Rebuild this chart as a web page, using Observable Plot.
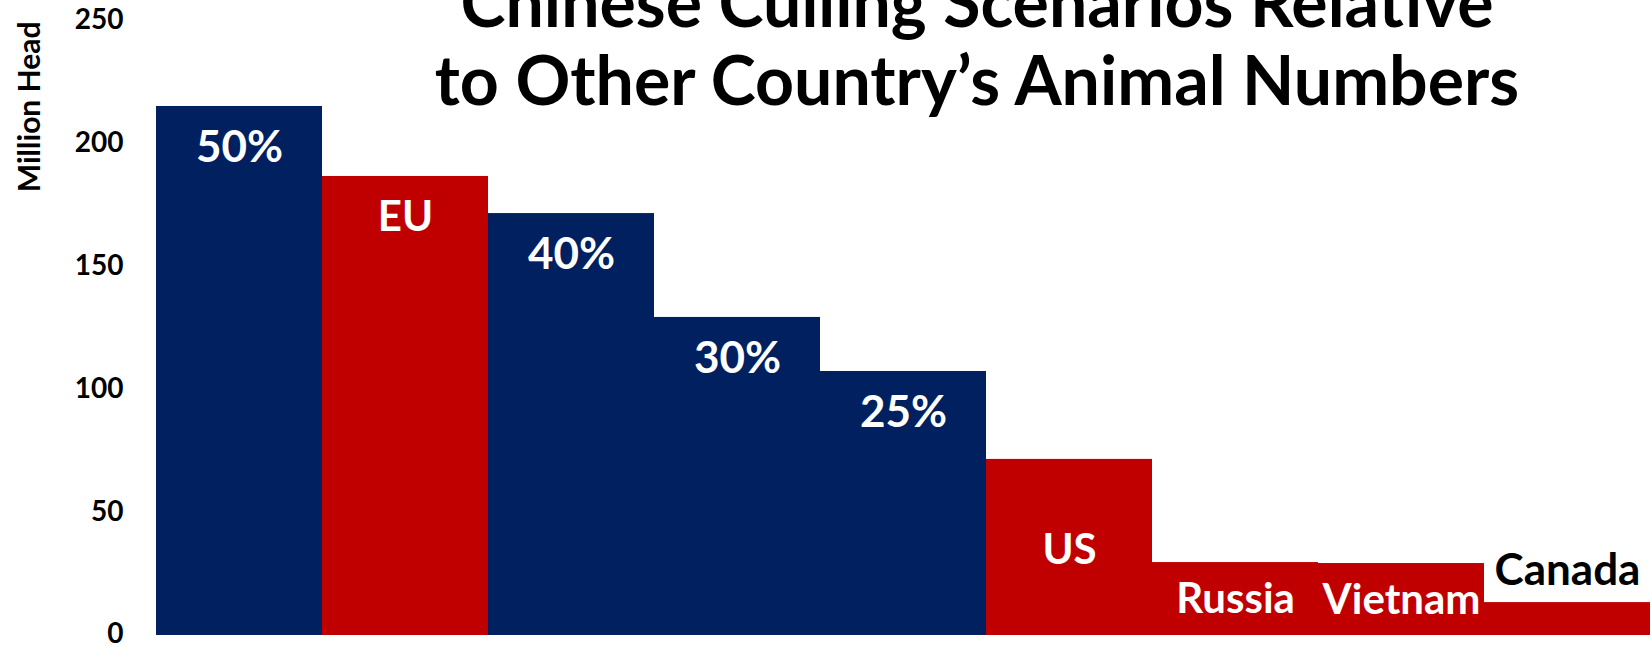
<!DOCTYPE html>
<html>
<head>
<meta charset="utf-8">
<script src="https://cdn.jsdelivr.net/npm/d3@7"></script>
<script src="https://cdn.jsdelivr.net/npm/@observablehq/plot@0.6"></script>
<style>
  html, body { margin: 0; padding: 0; background: #fff; }
  #wrap { position: relative; width: 1651px; height: 649px; overflow: hidden; }
  #title {
    position: absolute; left: 977px; top: -38px; transform: translateX(-50%);
    font-family: Lato, "DejaVu Sans", sans-serif; font-weight: 700;
    font-size: 68px; line-height: 78px; color: #000; text-align: center; white-space: nowrap;
  }
</style>
</head>
<body>
<div id="wrap">
  <div id="chart"></div>
  <div id="title">Chinese Culling Scenarios Relative<br>to Other Country’s Animal Numbers</div>
</div>
<script>
const labels = ["50%", "EU", "40%", "30%", "25%", "US", "Russia", "Vietnam", "Canada"];
const values = [215.4, 186.9, 171.8, 129.5, 107.5, 71.7, 29.7, 29.3, 13.4];
const kinds = ["China cull", "Country", "China cull", "China cull", "China cull", "Country", "Country", "Country", "Country"];
const yTicks = [0, 50, 100, 150, 200, 250];
const yLabel = "Million Head";

const data = labels.map((label, i) => ({label, value: values[i], kind: kinds[i]}));

const font = "Lato, 'DejaVu Sans', sans-serif";
const labelStyle = {x: "label", y: "value", text: "label", fill: "white", fontSize: 42, fontWeight: 700, fontFamily: font, lineAnchor: "middle"};

const chart = Plot.plot({
  width: 1651,
  height: 649,
  marginLeft: 155,
  marginRight: 0,
  marginTop: 21,
  marginBottom: 14,
  style: {fontFamily: font, background: "white"},
  x: {domain: labels, padding: 0, axis: null},
  y: {domain: [0, 250], ticks: yTicks, label: null},
  color: {domain: ["China cull", "Country"], range: ["#002060", "#C00000"]},
  marks: [
    Plot.barY(data, {x: "label", y: "value", fill: "kind", inset: 0}),
    Plot.axisY({ticks: yTicks, tickSize: 0, tickPadding: 32, fontSize: 28, fontWeight: 700, fill: "#000", label: null, dy: -1}),
    Plot.text(data.filter(d => d.kind === "China cull"), {...labelStyle, fontSize: 44, dy: 41}),
    Plot.text(data.filter(d => d.label === "EU"), {...labelStyle, dy: 41}),
    Plot.text(data.filter(d => d.label === "US"), {...labelStyle, dy: 91}),
    Plot.text(data.filter(d => d.label === "Russia" || d.label === "Vietnam"), {...labelStyle, dy: 37}),
    Plot.text(data.filter(d => d.label === "Canada"), {...labelStyle, fontSize: 44, fill: "black", dy: -32}),
    Plot.text([yLabel], {text: d => d, frameAnchor: "top-left", dx: -125, dy: 0, rotate: -90, textAnchor: "end", lineAnchor: "middle", fontSize: 30, fontWeight: 700, fontFamily: font, fill: "#000"})
  ]
});
document.getElementById("chart").appendChild(chart);
</script>
</body>
</html>
